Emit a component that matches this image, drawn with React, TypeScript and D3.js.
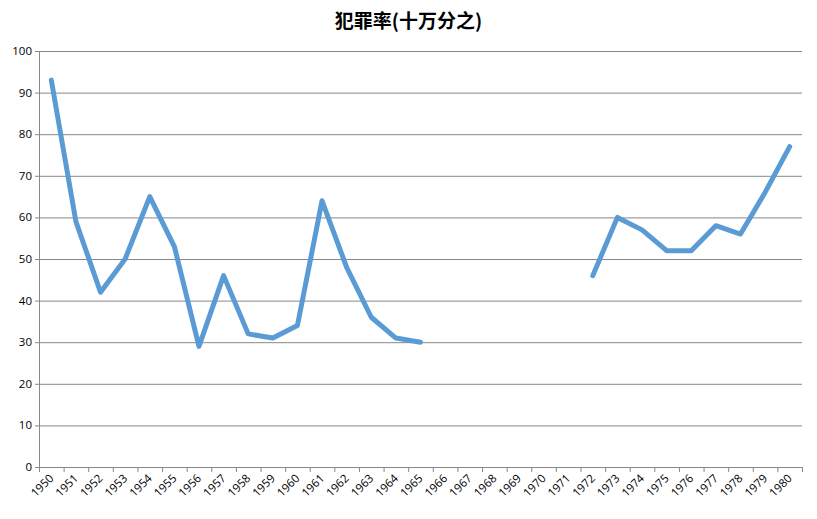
import React from "react";
import * as d3 from "d3";

const years: string[] = d3.range(1950, 1981).map(String);
const values: (number | null)[] = [
  93, 59, 42, 50, 65, 53, 29, 46, 32, 31, 34, 64, 48, 36, 31, 30,
  null, null, null, null, null, null,
  46, 60, 57, 52, 52, 58, 56, 66, 77,
];
const yTicks: number[] = d3.range(0, 101, 10);
const title = "犯罪率(十万分之)";

const W = 817, H = 519;
const m = { left: 39, right: 15, top: 51, bottom: 52 };

export default function App() {
  const x = d3.scaleBand<string>().domain(years).range([m.left, W - m.right]);
  const y = d3.scaleLinear().domain([0, 100]).range([H - m.bottom, m.top]);
  const line = d3
    .line<number | null>()
    .defined((d) => d !== null)
    .x((_, i) => (x(years[i]) as number) + x.bandwidth() / 2)
    .y((d) => y(d as number));
  const x0 = m.left, x1 = W - m.right, yb = H - m.bottom;
  const font = "'Open Sans', 'DejaVu Sans', sans-serif";
  return (
    <svg width={W} height={H} style={{ position: "absolute", left: 0, top: 0, background: "#fff" }}>
      <text x={W / 2} y={28} textAnchor="middle" fontSize={19} fontWeight="bold"
        fontFamily="'Noto Sans CJK SC', sans-serif" fill="#000">{title}</text>
      {yTicks.map((t) => (
        <g key={t}>
          {t > 0 && <line x1={x0} x2={x1} y1={y(t) + 0.5} y2={y(t) + 0.5} stroke="#888" strokeWidth={1} />}
          <line x1={x0 - 4} x2={x0} y1={y(t) + 0.5} y2={y(t) + 0.5} stroke="#888" />
          <text x={x0 - 7} y={y(t) + 4} textAnchor="end" fontSize={11.5} fontFamily={font} fill="#000">{t}</text>
        </g>
      ))}
      <line x1={x0 + 0.5} x2={x0 + 0.5} y1={m.top} y2={yb} stroke="#888" />
      <line x1={x0} x2={x1} y1={yb + 0.5} y2={yb + 0.5} stroke="#888" />
      {years.map((yr) => (
        <line key={"t" + yr} x1={(x(yr) as number) + 0.5} x2={(x(yr) as number) + 0.5} y1={yb} y2={yb + 5} stroke="#888" />
      ))}
      <line x1={x1 + 0.5} x2={x1 + 0.5} y1={yb} y2={yb + 5} stroke="#888" />
      {years.map((yr) => {
        const cx = (x(yr) as number) + x.bandwidth() / 2 + 3;
        const cy = yb + 12;
        return (
          <text key={yr} x={cx} y={cy} textAnchor="end" fontSize={11.5} fontFamily={font} fill="#000"
            transform={`rotate(-45 ${cx} ${cy})`}>{yr}</text>
        );
      })}
      <path d={line(values) || ""} fill="none" stroke="#5B9BD5" strokeWidth={5} strokeLinejoin="round" strokeLinecap="round" />
    </svg>
  );
}
